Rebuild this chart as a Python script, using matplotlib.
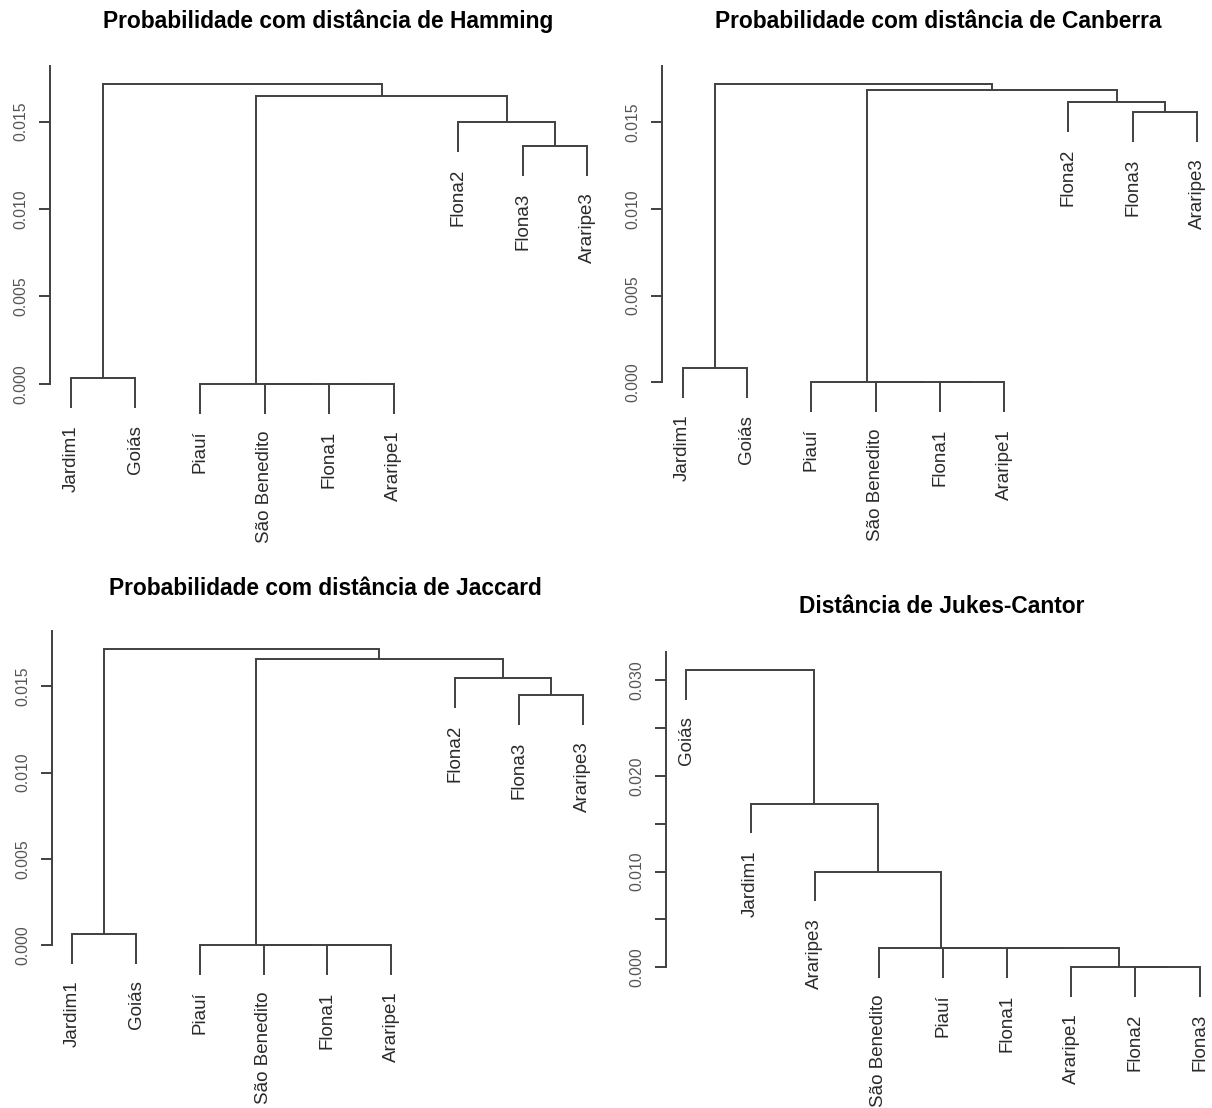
import matplotlib
matplotlib.use("Agg")
import matplotlib.pyplot as plt

plt.rcParams['font.family'] = ['Liberation Sans', 'DejaVu Sans']

W, H, DPI = 1212, 1108, 100

# ---------------- data ----------------
titles = ["Probabilidade com distância de Hamming",
          "Probabilidade com distância de Canberra",
          "Probabilidade com distância de Jaccard",
          "Distância de Jukes-Cantor"]

# leaf labels in plotting order; merges use -k for leaf k (1-based), +m for merge step m
labels_hamming = ["Jardim1", "Goiás", "Piauí", "São Benedito", "Flona1",
                  "Araripe1", "Flona2", "Flona3", "Araripe3"]
merge_hamming = [(-5, -6), (-4, 1), (-3, 2), (-1, -2), (-8, -9), (-7, 5), (3, 6), (4, 7)]
height_hamming = [0.0, 0.0, 0.0, 0.00031, 0.01363, 0.01498, 0.01647, 0.01716]

labels_canberra = ["Jardim1", "Goiás", "Piauí", "São Benedito", "Flona1",
                   "Araripe1", "Flona2", "Flona3", "Araripe3"]
merge_canberra = [(-5, -6), (-4, 1), (-3, 2), (-1, -2), (-8, -9), (-7, 5), (3, 6), (4, 7)]
height_canberra = [0.0, 0.0, 0.0, 0.00081, 0.01559, 0.01615, 0.01685, 0.01719]

labels_jaccard = ["Jardim1", "Goiás", "Piauí", "São Benedito", "Flona1",
                  "Araripe1", "Flona2", "Flona3", "Araripe3"]
merge_jaccard = [(-5, -6), (-4, 1), (-3, 2), (-1, -2), (-8, -9), (-7, 5), (3, 6), (4, 7)]
height_jaccard = [0.0, 0.0, 0.0, 0.00064, 0.01448, 0.01547, 0.01657, 0.01719]

labels_jc = ["Goiás", "Jardim1", "Araripe3", "São Benedito", "Piauí",
             "Flona1", "Araripe1", "Flona2", "Flona3"]
merge_jc = [(-8, -9), (-7, 1), (-6, 2), (-5, 3), (-4, 4), (-3, 5), (-2, 6), (-1, 7)]
height_jc = [0.0, 0.0, 0.00198, 0.00198, 0.00198, 0.00998, 0.01708, 0.03103]

ticks_prob = [0.0, 0.005, 0.010, 0.015]
ticklabels_prob = ["0.000", "0.005", "0.010", "0.015"]
ticks_jc = [0.0, 0.005, 0.010, 0.015, 0.020, 0.025, 0.030]
ticklabels_jc = ["0.000", "", "0.010", "", "0.020", "", "0.030"]

# ---------------- style ----------------
LINE_C = "#404040"
TEXT_C = "#2a2a2a"
TICK_C = "#555555"
LW = 1.4

fig = plt.figure(figsize=(W / DPI, H / DPI), dpi=DPI)
fig.patch.set_facecolor("white")


def add_panel(leaf1_px, spacing_px, y0_px, ppu, ylim):
    xlim = (0.68, 9.32)
    x_left = leaf1_px + (xlim[0] - 1) * spacing_px
    x_right = leaf1_px + (xlim[1] - 1) * spacing_px
    top_px = y0_px - ylim[1] * ppu
    bot_px = y0_px - ylim[0] * ppu
    ax = fig.add_axes([x_left / W, 1 - bot_px / H,
                       (x_right - x_left) / W, (bot_px - top_px) / H])
    ax.set_xlim(*xlim)
    ax.set_ylim(*ylim)
    ax.patch.set_alpha(0)
    return ax


def draw_dendro(ax, labels, merge, heights, ticks, ticklabels, hang=0.1):
    hang_len = hang * (max(heights) - min(heights))
    nodes = []
    for (a, b), h in zip(merge, heights):
        pts = []
        for c in (a, b):
            if c < 0:
                x = float(-c)
                ybot = h - hang_len
                ax.annotate(labels[-c - 1], xy=(x, ybot), xytext=(0, -12),
                            textcoords="offset points", rotation=90,
                            ha="center", va="top", fontsize=13.5,
                            color=TEXT_C, annotation_clip=False)
            else:
                x, ybot = nodes[c - 1]
            pts.append((x, ybot))
        (xa, ya), (xb, yb) = pts
        ax.plot([xa, xa, xb, xb], [ya, h, h, yb], color=LINE_C, lw=LW,
                solid_joinstyle="miter", solid_capstyle="butt", clip_on=False)
        nodes.append(((xa + xb) / 2.0, h))

    for s in ("top", "right", "bottom"):
        ax.spines[s].set_visible(False)
    ax.spines["left"].set_bounds(0, ax.get_ylim()[1])
    ax.spines["left"].set_color(LINE_C)
    ax.spines["left"].set_linewidth(LW)
    ax.set_xticks([])
    ax.set_yticks(ticks)
    ax.set_yticklabels(ticklabels)
    ax.tick_params(axis="y", direction="out", length=8, width=LW,
                   color=LINE_C, pad=7.5, labelsize=11.3, labelcolor=TICK_C)
    for lbl in ax.get_yticklabels():
        lbl.set_rotation(90)
        lbl.set_va("center")
        lbl.set_ha("right")


ax1 = add_panel(70.8, 64.58, 383.7, 17467, (-0.0032, 0.01818))
draw_dendro(ax1, labels_hamming, merge_hamming, height_hamming, ticks_prob, ticklabels_prob)

ax2 = add_panel(682.6, 64.3, 382.3, 17333, (-0.0032, 0.01825))
draw_dendro(ax2, labels_canberra, merge_canberra, height_canberra, ticks_prob, ticklabels_prob)

ax3 = add_panel(72.3, 63.8, 945.0, 17247, (-0.0032, 0.01823))
draw_dendro(ax3, labels_jaccard, merge_jaccard, height_jaccard, ticks_prob, ticklabels_prob)

ax4 = add_panel(686.4, 64.15, 967.3, 9577, (-0.0062, 0.03289))
draw_dendro(ax4, labels_jc, merge_jc, height_jc, ticks_jc, ticklabels_jc)

# titles (pixel positions: center x, baseline y)
title_pos = [(328, 28.3), (938.4, 28.3), (325.3, 595.0), (941.7, 613.3)]
for t, (cx, by) in zip(titles, title_pos):
    fig.text(cx / W, 1 - by / H, t, ha="center", va="baseline",
             fontsize=16.4, fontweight="bold", color="black")

fig.savefig("out.png", dpi=DPI, facecolor="white")
